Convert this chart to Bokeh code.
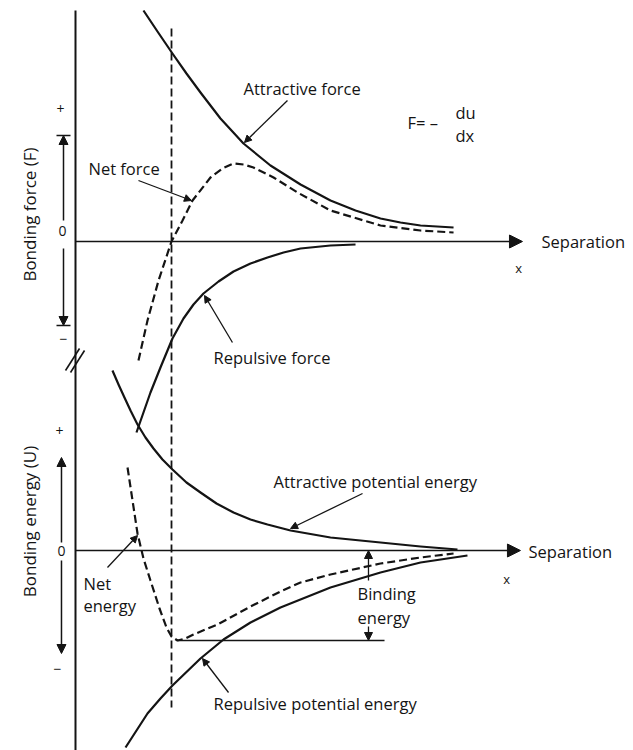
from bokeh.plotting import figure
from bokeh.models import Range1d, Arrow, NormalHead, TeeHead, ColumnDataSource
from bokeh.core.properties import value
from bokeh.embed import file_html
from bokeh.resources import INLINE
import math

# ---------------- data (separation in units of the equilibrium spacing r0) ----------------
# Upper panel: bonding force F (arbitrary units)
attr_force_x = [0.708, 0.854, 1.010, 1.156, 1.302, 1.510, 1.750, 2.031, 2.344, 2.656, 2.917, 3.177, 3.385, 3.594, 3.938]
attr_force_y = [2.31, 2.10, 1.88, 1.68, 1.49, 1.23, 0.98, 0.76, 0.57, 0.41, 0.31, 0.23, 0.19, 0.16, 0.14]

net_force_x = [0.656, 0.750, 0.865, 1.000, 1.115, 1.219, 1.406, 1.531, 1.646, 1.750, 1.854, 2.063, 2.313, 2.656, 3.177, 3.594, 3.938]
net_force_y = [-1.19, -0.79, -0.39, 0.00, 0.21, 0.41, 0.64, 0.73, 0.78, 0.77, 0.74, 0.64, 0.49, 0.31, 0.16, 0.11, 0.09]

rep_force_x = [0.635, 0.781, 0.885, 1.010, 1.125, 1.229, 1.333, 1.490, 1.646, 1.823, 2.000, 2.167, 2.344, 2.656, 2.917]
rep_force_y = [-1.91, -1.51, -1.26, -0.97, -0.77, -0.63, -0.52, -0.40, -0.30, -0.22, -0.16, -0.11, -0.07, -0.04, -0.03]

# Lower panel: bonding energy U (arbitrary units)
attr_pe_x = [0.385, 0.448, 0.510, 0.573, 0.646, 0.729, 0.8125, 0.906, 1.010, 1.156, 1.302, 1.469, 1.646, 1.823, 2.000, 2.240, 2.656, 3.177, 3.594, 3.979]
attr_pe_y = [1.80, 1.66, 1.53, 1.40, 1.26, 1.13, 1.02, 0.91, 0.81, 0.68, 0.58, 0.47, 0.38, 0.31, 0.26, 0.20, 0.13, 0.08, 0.04, 0.01]

net_e_x = [0.542, 0.594, 0.646, 0.708, 0.781, 0.875, 0.948, 1.000, 1.0625, 1.146, 1.229, 1.479, 1.823, 2.135, 2.344, 2.656, 3.177, 3.594, 3.938]
net_e_y = [0.83, 0.50, 0.17, -0.08, -0.30, -0.58, -0.77, -0.86, -0.90, -0.88, -0.84, -0.74, -0.56, -0.41, -0.32, -0.24, -0.13, -0.07, -0.03]

rep_pe_x = [0.521, 0.750, 0.885, 1.010, 1.302, 1.542, 1.823, 2.135, 2.656, 3.177, 3.594, 4.083]
rep_pe_y = [-1.97, -1.63, -1.48, -1.35, -1.08, -0.89, -0.72, -0.57, -0.37, -0.22, -0.12, -0.05]

eq_sep = 1.0            # equilibrium separation r0
binding_level = -0.90   # minimum of net energy
binding_x = 3.052
binding_line_end = 3.219

tick_labels = ["+", "0", "\u2212"]

# ---------------- figure ----------------
INK = "#141414"
FONT = value("Open Sans")
FS = "16.5px"

p = figure(width=633, height=750,
           x_range=Range1d(-0.78125, 5.8125),
           y_range=Range1d(-5.09, 2.41),
           output_backend="svg", toolbar_location=None,
           x_axis_type=None, y_axis_type=None, min_border=0)
p.extra_y_ranges = {"energy": Range1d(-2.00, 5.50)}
p.grid.visible = False
p.outline_line_color = None
p.background_fill_color = "white"
p.border_fill_color = "white"

E = "energy"

# main vertical axis and break marks
p.segment(x0=[0], y0=[5.40], x1=[0], y1=[-2.0], y_range_name=E, line_color=INK, line_width=2)
p.segment(x0=[-0.104, -0.052], y0=[1.80, 1.78], x1=[0.042, 0.094], y1=[2.02, 2.00],
          y_range_name=E, line_color=INK, line_width=1.6)

# equilibrium separation dashed vertical
p.segment(x0=[eq_sep], y0=[5.22], x1=[eq_sep], y1=[-1.57], y_range_name=E,
          line_color=INK, line_width=1.8, line_dash="8 4")

# zero lines with arrowheads
p.add_layout(Arrow(end=NormalHead(size=13, fill_color=INK, line_color=INK),
                   x_start=0, y_start=0, x_end=4.656, y_end=0,
                   line_color=INK, line_width=1.6))
p.add_layout(Arrow(end=NormalHead(size=13, fill_color=INK, line_color=INK),
                   x_start=0, y_start=0, x_end=4.635, y_end=0, y_range_name=E,
                   line_color=INK, line_width=1.6))

# force curves
p.line(attr_force_x, attr_force_y, line_color=INK, line_width=2.2, line_join="round")
p.line(net_force_x, net_force_y, line_color=INK, line_width=2.2, line_dash="8 4")
p.line(rep_force_x, rep_force_y, line_color=INK, line_width=2.2, line_join="round")

# energy curves
p.line(attr_pe_x, attr_pe_y, y_range_name=E, line_color=INK, line_width=2.2, line_join="round")
p.line(net_e_x, net_e_y, y_range_name=E, line_color=INK, line_width=2.2, line_dash="8 4")
p.line(rep_pe_x, rep_pe_y, y_range_name=E, line_color=INK, line_width=2.2, line_join="round")

# binding energy level line
p.segment(x0=[net_e_x[8]], y0=[binding_level], x1=[binding_line_end], y1=[binding_level],
          y_range_name=E, line_color=INK, line_width=1.5)

def pointer(x0, y0, x1, y1, rng=None, size=7, lw=1.3):
    kw = dict(x_start=x0, y_start=y0, x_end=x1, y_end=y1, line_color=INK, line_width=lw,
              end=NormalHead(size=size, fill_color=INK, line_color=INK))
    if rng:
        kw["y_range_name"] = rng
    p.add_layout(Arrow(**kw))

# label pointers
pointer(2.208, 1.41, 1.760, 0.99)
pointer(0.656, 0.61, 1.208, 0.41)
pointer(1.635, -1.01, 1.344, -0.54)
pointer(2.990, 0.57, 2.240, 0.22, E)
pointer(0.333, -0.17, 0.646, 0.15, E)
pointer(1.594, -1.42, 1.323, -1.08, E)

# binding energy arrows
pointer(binding_x, -0.30, binding_x, 0.0, E, size=8)
pointer(binding_x, -0.76, binding_x, binding_level, E, size=8)

# left double arrows
pointer(-0.125, 0.21, -0.125, 1.06, size=9, lw=1.5)
pointer(-0.125, -0.07, -0.125, -0.84, size=9, lw=1.5)
for ye in (1.06, -0.84):
    p.add_layout(Arrow(x_start=-0.125, y_start=0.0, x_end=-0.125, y_end=ye, line_alpha=0,
                       end=TeeHead(size=14, line_color=INK, line_width=1.6)))
pointer(-0.146, 0.08, -0.146, 0.93, E, size=9, lw=1.5)
pointer(-0.146, -0.10, -0.146, -1.03, E, size=9, lw=1.5)

# ---------------- texts ----------------
def texts(xs, ys, labels, rng=None, align="left", size=FS, angle=0.0):
    src = ColumnDataSource(dict(x=xs, y=ys, t=labels))
    kw = dict(x="x", y="y", text="t", source=src, text_font=FONT, text_font_size=size,
              text_color=INK, text_align=align, text_baseline="middle", angle=angle)
    if rng:
        kw["y_range_name"] = rng
    p.text(**kw)

texts([1.75, 0.135, 1.4375, 4.854, 3.458],
      [1.53, 0.73, -1.16, 0.0, 1.19],
      ["Attractive force", "Net force", "Repulsive force", "Separation", "F= \u2013"])
texts([3.958, 3.958], [1.29, 1.06], ["du", "dx"])
texts([4.615], [-0.26], ["x"], align="center", size="13px")
texts([-0.156, -0.135, -0.125], [1.33, 0.11, -0.97], tick_labels, align="center", size="14px")
texts([-0.479], [0.27], ["Bonding force (F)"], align="center", size="17px", angle=math.pi / 2)

texts([2.0625, 4.719, 2.9375, 2.9375, 0.083, 0.083, 1.4375],
      [0.69, -0.01, -0.43, -0.67, -0.33, -0.55, -1.53],
      ["Attractive potential energy", "Separation", "Binding", "energy", "Net", "energy",
       "Repulsive potential energy"], rng=E)
texts([4.49], [-0.28], ["x"], rng=E, align="center", size="13px")
texts([-0.167, -0.146, -0.1875], [1.20, 0.0, -1.18], tick_labels, rng=E, align="center", size="14px")
texts([-0.479], [0.29], ["Bonding energy (U)"], rng=E, align="center", size="17px", angle=math.pi / 2)

open("out.html", "w").write(file_html(p, INLINE))
